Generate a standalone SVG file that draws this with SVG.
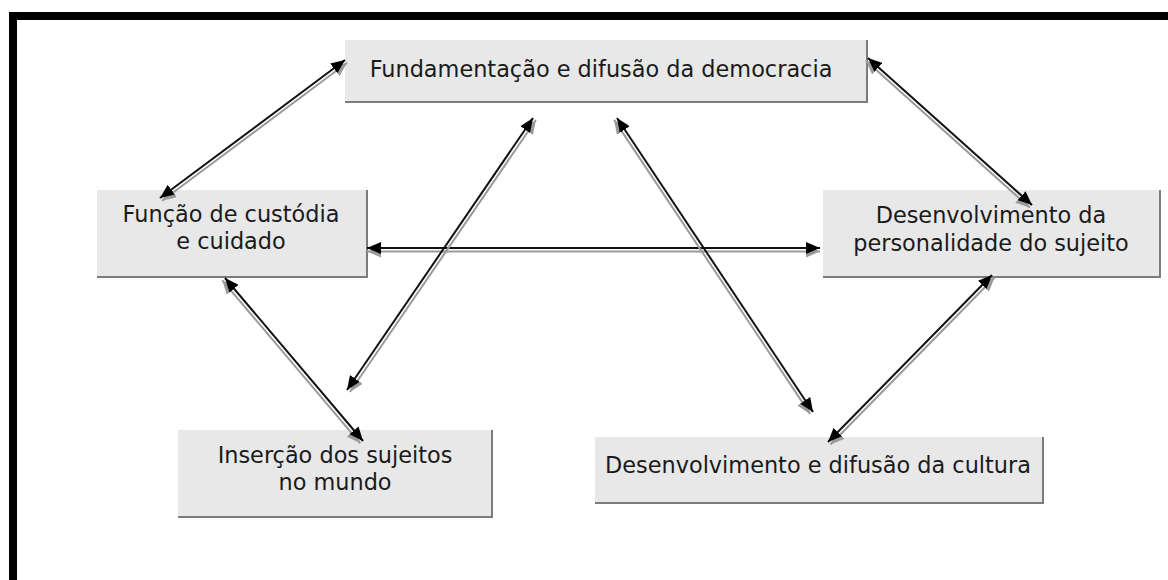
<svg xmlns="http://www.w3.org/2000/svg" width="1168" height="580" viewBox="0 0 1168 580">
<defs>
<style>
.box{fill:#e8e8e8;}
.edge{fill:none;stroke:#7c7c7c;stroke-width:2;}
.lbl{font-family:"DejaVu Sans","Verdana",sans-serif;font-size:22.4px;fill:#1a1a1a;text-anchor:middle;}
.ln{stroke:#111;stroke-width:2;fill:none;marker-start:url(#ah);marker-end:url(#ah);}
.sh{stroke:#9a9a9a;stroke-width:2;fill:none;marker-start:url(#ahs);marker-end:url(#ahs);}
</style>
<marker id="ah" viewBox="0 0 14 12" refX="14" refY="6" markerWidth="14" markerHeight="12" markerUnits="userSpaceOnUse" orient="auto-start-reverse">
<path d="M0,0 L14,6 L0,12 z" fill="#000"/>
</marker>
<marker id="ahs" viewBox="0 0 14 12" refX="14" refY="6" markerWidth="14" markerHeight="12" markerUnits="userSpaceOnUse" orient="auto-start-reverse">
<path d="M0,0 L14,6 L0,12 z" fill="#9a9a9a"/>
</marker>
</defs>
<rect x="0" y="0" width="1168" height="580" fill="#fff"/>
<g id="frame">
<rect x="9" y="12" width="1159" height="8" fill="#000"/>
<rect x="9" y="12" width="8" height="568" fill="#000"/>
</g>
<g id="node-democracia">
<rect class="box" x="345" y="40" width="522" height="62"/>
<polyline class="edge" points="345,102 867,102 867,40"/>
<text class="lbl" x="601" y="77">Fundamentação e difusão da democracia</text>
</g>
<g id="node-custodia">
<rect class="box" x="97" y="190" width="270" height="87"/>
<polyline class="edge" points="97,277 367,277 367,190"/>
<text class="lbl" x="231" y="222">Função de custódia</text>
<text class="lbl" x="231" y="249">e cuidado</text>
</g>
<g id="node-personalidade">
<rect class="box" x="823" y="190" width="337" height="87"/>
<polyline class="edge" points="823,277 1160,277 1160,190"/>
<text class="lbl" x="991" y="223">Desenvolvimento da</text>
<text class="lbl" x="991" y="251">personalidade do sujeito</text>
</g>
<g id="node-insercao">
<rect class="box" x="178" y="430" width="314" height="87"/>
<polyline class="edge" points="178,517 492,517 492,430"/>
<text class="lbl" x="335" y="463">Inserção dos sujeitos</text>
<text class="lbl" x="335" y="490">no mundo</text>
</g>
<g id="node-cultura">
<rect class="box" x="595" y="437" width="448" height="66"/>
<polyline class="edge" points="595,503 1043,503 1043,437"/>
<text class="lbl" x="818" y="473">Desenvolvimento e difusão da cultura</text>
</g>
<g id="connectors">
<line class="sh" x1="162.1" y1="200.8" x2="347.1" y2="62.8"/>
<line class="ln" x1="160" y1="198" x2="345" y2="60"/>
<line class="sh" x1="865.7" y1="60.6" x2="1029.7" y2="207.6"/>
<line class="ln" x1="868" y1="58" x2="1032" y2="205"/>
<line class="sh" x1="367" y1="251.5" x2="820" y2="251.5"/>
<line class="ln" x1="367" y1="248" x2="820" y2="248"/>
<line class="sh" x1="222.3" y1="280.3" x2="360.3" y2="443.3"/>
<line class="ln" x1="225" y1="278" x2="363" y2="441"/>
<line class="sh" x1="349.9" y1="392" x2="535.9" y2="120"/>
<line class="ln" x1="347" y1="390" x2="533" y2="118"/>
<line class="sh" x1="614.1" y1="119.9" x2="810.1" y2="413.9"/>
<line class="ln" x1="617" y1="118" x2="813" y2="412"/>
<line class="sh" x1="830.5" y1="444.5" x2="994.5" y2="277.5"/>
<line class="ln" x1="828" y1="442" x2="992" y2="275"/>
</g>
</svg>
